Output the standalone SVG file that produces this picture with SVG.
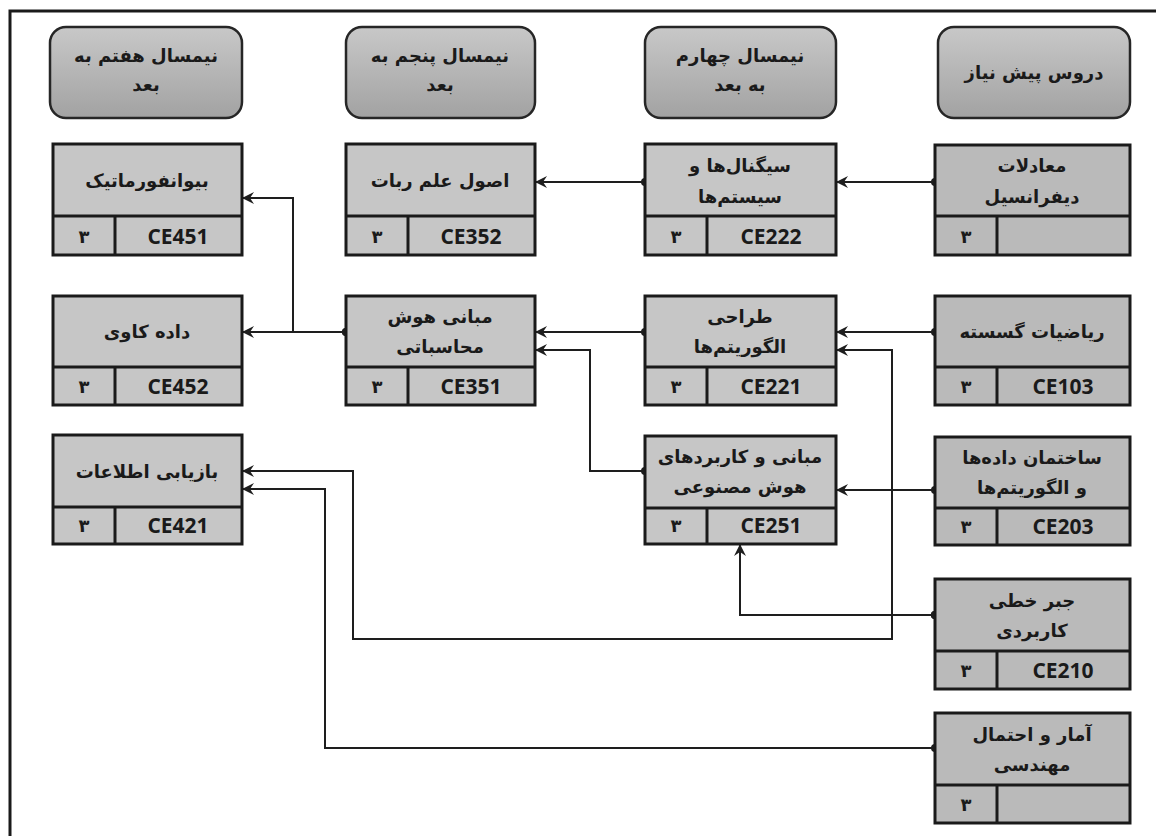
<svg xmlns="http://www.w3.org/2000/svg" width="1156" height="836" viewBox="0 0 1156 836">
<style>
.box{fill:#c6c6c6;stroke:#1a1a1a;stroke-width:3}
.box4{fill:#bababa;stroke:#1a1a1a;stroke-width:3}
.div{stroke:#1a1a1a;stroke-width:3}
.hdr{fill:url(#hg);stroke:#262626;stroke-width:2.5}
.fa{font-family:"DejaVu Sans",sans-serif;font-weight:bold;font-size:18px;fill:#1a1a1a;text-anchor:middle;direction:rtl}
.code{font-family:"Open Sans","Liberation Sans",sans-serif;font-weight:bold;font-size:21px;fill:#1a1a1a;text-anchor:middle}
.con{fill:none;stroke:#1e1e1e;stroke-width:2;marker-start:url(#dot);marker-end:url(#arr)}
</style>
<defs>
<linearGradient id="hg" x1="0" y1="0" x2="0" y2="1">
<stop offset="0" stop-color="#c8c8c8"/>
<stop offset="1" stop-color="#a2a2a2"/>
</linearGradient>
<marker id="arr" markerUnits="userSpaceOnUse" markerWidth="14" markerHeight="14" viewBox="0 0 14 14" refX="13" refY="7" orient="auto">
<path d="M1,1 L13,7 L1,13 L5,7 z" fill="#1e1e1e"/>
</marker>
<marker id="dot" markerUnits="userSpaceOnUse" markerWidth="10" markerHeight="10" viewBox="0 0 10 10" refX="5" refY="5" orient="auto">
<circle cx="5" cy="5" r="4" fill="#1e1e1e"/>
</marker>
</defs>
<rect width="1156" height="836" fill="#ffffff"/>
<path d="M10,836 V11 H1156" fill="none" stroke="#1a1a1a" stroke-width="3"/>

<g id="headers">
<g id="h7">
<rect class="hdr" x="50" y="27" width="192" height="91" rx="16"/>
<text class="fa" x="146" y="62">نیمسال هفتم به</text>
<text class="fa" x="146" y="91">بعد</text>
</g>
<g id="h5">
<rect class="hdr" x="346" y="27" width="189" height="91" rx="16"/>
<text class="fa" x="440" y="62">نیمسال پنجم به</text>
<text class="fa" x="440" y="91">بعد</text>
</g>
<g id="h4">
<rect class="hdr" x="645" y="27" width="191" height="91" rx="16"/>
<text class="fa" x="740" y="62">نیمسال چهارم</text>
<text class="fa" x="740" y="91">به بعد</text>
</g>
<g id="hpre">
<rect class="hdr" x="938" y="27" width="192" height="91" rx="16"/>
<text class="fa" x="1034" y="79">دروس پیش نیاز</text>
</g>
</g>

<g id="connectors">
<path class="con" d="M935,182 H836"/>
<path class="con" d="M645,182 H535"/>
<path class="con" d="M935,332 H836"/>
<path class="con" d="M645,332 H535"/>
<path class="con" d="M645,471 H590 V350 H535"/>
<path class="con" d="M346,332 H242"/>
<path class="con" d="M346,332 H293 V198 H242"/>
<path class="con" d="M935,490 H836"/>
<path class="con" d="M935,615 H740 V544"/>
<path class="con" d="M935,615 H892 V350 H836"/>
<path class="con" d="M935,615 H892 V639 H353 V471 H242"/>
<path class="con" d="M935,748 H325 V489 H242"/>
</g>

<g id="CE451">
<rect class="box" x="53" y="144" width="189" height="111"/>
<line class="div" x1="53" y1="216" x2="242" y2="216"/>
<line class="div" x1="115" y1="216" x2="115" y2="255"/>
<text class="fa" x="147" y="187">بیوانفورماتیک</text>
<text class="fa" x="84" y="243">۳</text>
<text class="code" x="178" y="244">CE451</text>
</g>
<g id="CE452">
<rect class="box" x="53" y="296" width="189" height="109"/>
<line class="div" x1="53" y1="367" x2="242" y2="367"/>
<line class="div" x1="115" y1="367" x2="115" y2="405"/>
<text class="fa" x="147" y="338">داده کاوی</text>
<text class="fa" x="84" y="393">۳</text>
<text class="code" x="178" y="394">CE452</text>
</g>
<g id="CE421">
<rect class="box" x="53" y="435" width="189" height="109"/>
<line class="div" x1="53" y1="507" x2="242" y2="507"/>
<line class="div" x1="115" y1="507" x2="115" y2="544"/>
<text class="fa" x="147" y="478">بازیابی اطلاعات</text>
<text class="fa" x="84" y="532">۳</text>
<text class="code" x="178" y="533">CE421</text>
</g>

<g id="CE352">
<rect class="box" x="346" y="144" width="189" height="111"/>
<line class="div" x1="346" y1="216" x2="535" y2="216"/>
<line class="div" x1="408" y1="216" x2="408" y2="255"/>
<text class="fa" x="440" y="187">اصول علم ربات</text>
<text class="fa" x="377" y="243">۳</text>
<text class="code" x="471" y="244">CE352</text>
</g>
<g id="CE351">
<rect class="box" x="346" y="296" width="189" height="109"/>
<line class="div" x1="346" y1="367" x2="535" y2="367"/>
<line class="div" x1="408" y1="367" x2="408" y2="405"/>
<text class="fa" x="440" y="323">مبانی هوش</text>
<text class="fa" x="440" y="353">محاسباتی</text>
<text class="fa" x="377" y="393">۳</text>
<text class="code" x="471" y="394">CE351</text>
</g>

<g id="CE222">
<rect class="box" x="645" y="144" width="191" height="111"/>
<line class="div" x1="645" y1="216" x2="836" y2="216"/>
<line class="div" x1="707" y1="216" x2="707" y2="255"/>
<text class="fa" x="740" y="172">سیگنال‌ها و</text>
<text class="fa" x="740" y="203">سیستم‌ها</text>
<text class="fa" x="676" y="243">۳</text>
<text class="code" x="771" y="244">CE222</text>
</g>
<g id="CE221">
<rect class="box" x="645" y="296" width="191" height="109"/>
<line class="div" x1="645" y1="367" x2="836" y2="367"/>
<line class="div" x1="707" y1="367" x2="707" y2="405"/>
<text class="fa" x="740" y="323">طراحی</text>
<text class="fa" x="740" y="353">الگوریتم‌ها</text>
<text class="fa" x="676" y="393">۳</text>
<text class="code" x="771" y="394">CE221</text>
</g>
<g id="CE251">
<rect class="box" x="645" y="436" width="191" height="108"/>
<line class="div" x1="645" y1="508" x2="836" y2="508"/>
<line class="div" x1="707" y1="508" x2="707" y2="544"/>
<text class="fa" x="740" y="463">مبانی و کاربردهای</text>
<text class="fa" x="740" y="493">هوش مصنوعی</text>
<text class="fa" x="676" y="532">۳</text>
<text class="code" x="771" y="533">CE251</text>
</g>

<g id="DIFFEQ">
<rect class="box4" x="935" y="145" width="195" height="110"/>
<line class="div" x1="935" y1="216" x2="1130" y2="216"/>
<line class="div" x1="997" y1="216" x2="997" y2="255"/>
<text class="fa" x="1032" y="172">معادلات</text>
<text class="fa" x="1032" y="203">دیفرانسیل</text>
<text class="fa" x="966" y="243">۳</text>
</g>
<g id="CE103">
<rect class="box4" x="935" y="296" width="195" height="109"/>
<line class="div" x1="935" y1="367" x2="1130" y2="367"/>
<line class="div" x1="997" y1="367" x2="997" y2="405"/>
<text class="fa" x="1032" y="338">ریاضیات گسسته</text>
<text class="fa" x="966" y="393">۳</text>
<text class="code" x="1063" y="394">CE103</text>
</g>
<g id="CE203">
<rect class="box4" x="935" y="437" width="195" height="108"/>
<line class="div" x1="935" y1="508" x2="1130" y2="508"/>
<line class="div" x1="997" y1="508" x2="997" y2="545"/>
<text class="fa" x="1032" y="464">ساختمان داده‌ها</text>
<text class="fa" x="1032" y="494">و الگوریتم‌ها</text>
<text class="fa" x="966" y="533">۳</text>
<text class="code" x="1063" y="534">CE203</text>
</g>
<g id="CE210">
<rect class="box4" x="935" y="579" width="195" height="110"/>
<line class="div" x1="935" y1="651" x2="1130" y2="651"/>
<line class="div" x1="997" y1="651" x2="997" y2="689"/>
<text class="fa" x="1032" y="607">جبر خطی</text>
<text class="fa" x="1032" y="637">کاربردی</text>
<text class="fa" x="966" y="677">۳</text>
<text class="code" x="1063" y="678">CE210</text>
</g>
<g id="STAT">
<rect class="box4" x="935" y="713" width="195" height="110"/>
<line class="div" x1="935" y1="785" x2="1130" y2="785"/>
<line class="div" x1="997" y1="785" x2="997" y2="823"/>
<text class="fa" x="1032" y="741">آمار و احتمال</text>
<text class="fa" x="1032" y="771">مهندسی</text>
<text class="fa" x="966" y="811">۳</text>
</g>
</svg>
